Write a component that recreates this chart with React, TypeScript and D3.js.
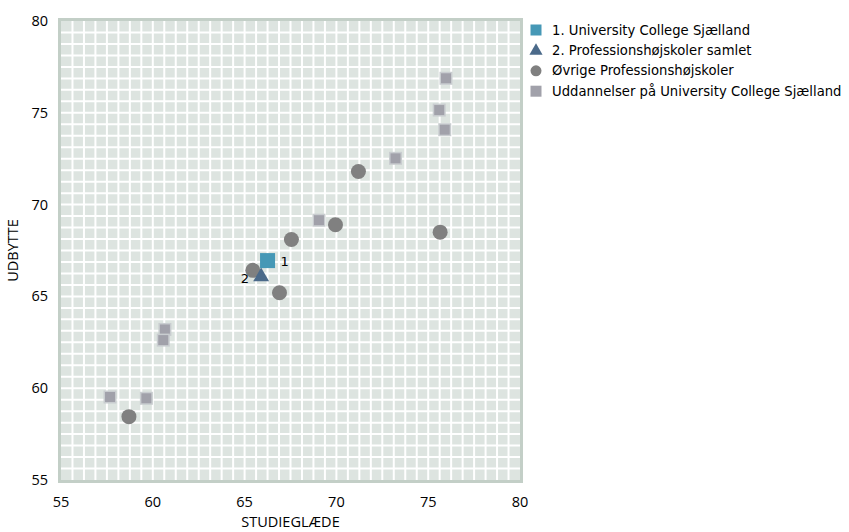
import React from "react";
import * as d3 from "d3";

const ucsjX = [66.25];
const ucsjY = [66.95];
const samletX = [65.9];
const samletY = [66.07];
const oevrigeX = [65.45, 67.55, 66.9, 69.95, 71.2, 75.65, 58.7];
const oevrigeY = [66.42, 68.1, 65.2, 68.9, 71.8, 68.5, 58.45];
const uddX = [75.97, 75.6, 75.9, 73.22, 69.05, 60.66, 60.57, 57.67, 59.65];
const uddY = [76.88, 75.15, 74.08, 72.52, 69.15, 63.2, 62.62, 59.52, 59.45];
const xTicks = [55, 60, 65, 70, 75, 80];
const yTicks = [55, 60, 65, 70, 75, 80];
const legendLabels = [
  "1. University College Sjælland",
  "2. Professionshøjskoler samlet",
  "Øvrige Professionshøjskoler",
  "Uddannelser på University College Sjælland",
];
const xTitle = "STUDIEGLÆDE";
const yTitle = "UDBYTTE";

const C_UCSJ = "#4698b6";
const C_SAMLET = "#4b6a8a";
const C_OEV = "#808080";
const C_UDD = "#a1a1aa";
const C_UDD_HALO = "#c9cdd0";

export default function App() {
  const W = 849;
  const H = 532;
  const x = d3.scaleLinear().domain([55, 80]).range([61, 520]);
  const y = d3.scaleLinear().domain([55, 80]).range([480, 21]);
  const gridVals = d3.range(0, 41).map((i) => 55 + i * 0.625);
  const tri = d3.symbol().type(d3.symbolTriangle).size(110)();
  const triLeg = d3.symbol().type(d3.symbolTriangle).size(75)();
  const tickFont = "'Open Sans', sans-serif";
  const legFont = "'DejaVu Sans', sans-serif";

  const [x0, x1] = x.range();
  const [y0, y1] = [y(80), y(55)];

  return (
    <svg width={W} height={H} style={{ position: "absolute", left: 0, top: 0 }}>
      <g>
        <rect x={x0 - 1.5} y={y0 - 1.5} width={x1 - x0 + 3} height={y1 - y0 + 3} fill="#dde4e0" stroke="#c3cfc7" strokeWidth={3} />
        {gridVals.slice(1, -1).map((v, i) => (
          <line key={"gx" + i} x1={x(v)} x2={x(v)} y1={y0} y2={y1} stroke="#ffffff" strokeWidth={2} />
        ))}
        {gridVals.slice(1, -1).map((v, i) => (
          <line key={"gy" + i} x1={x0} x2={x1} y1={y(v)} y2={y(v)} stroke="#ffffff" strokeWidth={2} />
        ))}
      </g>
      {xTicks.map((t) => (
        <text key={"xt" + t} x={x(t)} y={y(55) + 27} textAnchor="middle" fontFamily={tickFont} fontSize={14.5} fill="#000">
          {t}
        </text>
      ))}
      {yTicks.map((t) => (
        <text key={"yt" + t} x={x(55) - 13} y={y(t) + 5} textAnchor="end" fontFamily={tickFont} fontSize={14.5} fill="#000">
          {t}
        </text>
      ))}
      <text x={(x0 + x1) / 2} y={y(55) + 47} textAnchor="middle" fontFamily={tickFont} fontSize={14.5} fill="#000">
        {xTitle}
      </text>
      <text transform={`translate(${x0 - 43},${(y0 + y1) / 2}) rotate(-90)`} textAnchor="middle" fontFamily={tickFont} fontSize={14.5} fill="#000">
        {yTitle}
      </text>
      {uddX.map((v, i) => (
        <g key={"u" + i}>
          <rect x={x(v) - 6.5} y={y(uddY[i]) - 6.5} width={13} height={13} fill={C_UDD_HALO} />
          <rect x={x(v) - 5} y={y(uddY[i]) - 5} width={10} height={10} fill={C_UDD} />
        </g>
      ))}
      {oevrigeX.map((v, i) => (
        <circle key={"o" + i} cx={x(v)} cy={y(oevrigeY[i])} r={7.5} fill={C_OEV} />
      ))}
      {samletX.map((v, i) => (
        <g key={"s" + i}>
          <path d={tri!} transform={`translate(${x(v)},${y(samletY[i])})`} fill={C_SAMLET} />
          <text x={x(v) - 12} y={y(samletY[i]) + 6} textAnchor="end" fontFamily={legFont} fontSize={13} fill="#000">2</text>
        </g>
      ))}
      {ucsjX.map((v, i) => (
        <g key={"c" + i}>
          <rect x={x(v) - 7.5} y={y(ucsjY[i]) - 7.5} width={15} height={15} fill={C_UCSJ} />
          <text x={x(v) + 13} y={y(ucsjY[i]) + 5} fontFamily={legFont} fontSize={13} fill="#000">1</text>
        </g>
      ))}
      <g transform="translate(536,30)">
        {legendLabels.map((lab, i) => {
          const cy = i * 20.4;
          let marker;
          if (i === 0) marker = <rect x={-5.5} y={cy - 5.5} width={11} height={11} fill={C_UCSJ} />;
          else if (i === 1) marker = <path d={triLeg!} transform={`translate(0,${cy + 0.5})`} fill={C_SAMLET} />;
          else if (i === 2) marker = <circle cx={0} cy={cy} r={5.5} fill={C_OEV} />;
          else marker = <rect x={-5.5} y={cy - 5.5} width={11} height={11} fill={C_UDD} />;
          return (
            <g key={"l" + i}>
              {marker}
              <text x={16} y={cy + 4.5} fontFamily={legFont} fontSize={13.2} fill="#000">
                {lab}
              </text>
            </g>
          );
        })}
      </g>
    </svg>
  );
}
